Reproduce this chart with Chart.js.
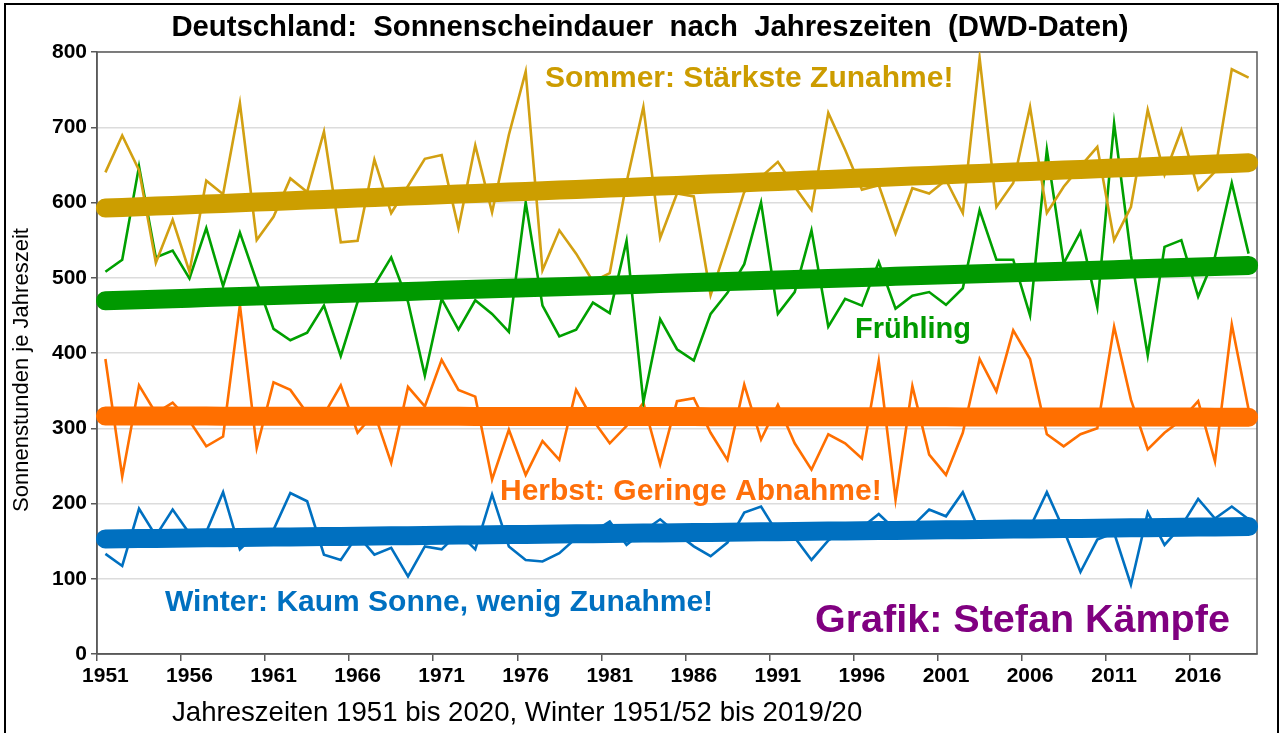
<!DOCTYPE html>
<html>
<head>
<meta charset="utf-8">
<script src="https://cdn.jsdelivr.net/npm/chart.js@4.4.1/dist/chart.umd.min.js"></script>
<style>
  html, body { margin: 0; padding: 0; background: #fff; }
  #wrap { position: relative; width: 1283px; height: 733px; }
</style>
</head>
<body>
<div id="wrap"><canvas id="chart" width="1283" height="733"></canvas></div>
<script>
const years = [
  1951, 1952, 1953, 1954, 1955, 1956, 1957, 1958, 1959, 1960,
  1961, 1962, 1963, 1964, 1965, 1966, 1967, 1968, 1969, 1970,
  1971, 1972, 1973, 1974, 1975, 1976, 1977, 1978, 1979, 1980,
  1981, 1982, 1983, 1984, 1985, 1986, 1987, 1988, 1989, 1990,
  1991, 1992, 1993, 1994, 1995, 1996, 1997, 1998, 1999, 2000,
  2001, 2002, 2003, 2004, 2005, 2006, 2007, 2008, 2009, 2010,
  2011, 2012, 2013, 2014, 2015, 2016, 2017, 2018, 2019
];
const tickLabels = [1951, 1956, 1961, 1966, 1971, 1976, 1981, 1986, 1991, 1996, 2001, 2006, 2011, 2016];

// Sonnenstunden je Jahreszeit
const sommer = [
  640, 689, 643, 520, 577, 508, 629, 611, 732, 550,
  581, 632, 614, 694, 547, 549, 657, 586, 622, 658,
  663, 566, 676, 587, 690, 774, 510, 563, 532, 495,
  506, 627, 727, 553, 612, 608, 477, 545, 614, 634,
  654, 621, 590, 719, 670, 617, 623, 559, 619, 612,
  630, 586, 792, 594, 626, 727, 586, 621, 648, 674,
  550, 594, 723, 637, 696, 617, 641, 777, 766
];
const fruehling = [
  508, 524, 648, 527, 536, 499, 566, 489, 560, 495,
  432, 417, 427, 463, 396, 468, 490, 527, 468, 370,
  472, 431, 470, 452, 428, 600, 463, 422, 431, 467,
  453, 549, 335, 445, 405, 390, 452, 480, 518, 600,
  452, 481, 563, 435, 472, 463, 521, 459, 476, 481,
  464, 486, 590, 524, 524, 450, 670, 519, 561, 461,
  705, 530, 397, 541, 550, 475, 528, 626, 532
];
const herbst = [
  392, 236, 357, 320, 334, 310, 276, 289, 464, 274,
  361, 351, 320, 318, 357, 294, 320, 254, 355, 329,
  391, 351, 342, 232, 298, 238, 283, 258, 351, 311,
  280, 303, 334, 252, 336, 340, 294, 258, 358, 285,
  331, 280, 245, 292, 280, 260, 389, 205, 356, 265,
  238, 294, 392, 349, 430, 392, 292, 276, 292, 300,
  435, 338, 272, 294, 311, 336, 256, 438, 325
];
const winter = [
  133, 117, 193, 157, 192, 160, 162, 215, 139, 160,
  165, 214, 203, 132, 125, 158, 132, 141, 103, 143,
  139, 161, 139, 212, 143, 125, 123, 134, 154, 162,
  176, 145, 163, 179, 160, 143, 130, 148, 188, 196,
  160, 155, 125, 151, 165, 168, 186, 165, 170, 192,
  183, 215, 163, 165, 165, 168, 215, 165, 109, 152,
  161, 92, 188, 145, 170, 206, 180, 196, 179
];

// lineare Trendlinie (wie in Excel)
function trend(values) {
  const n = values.length;
  let sx = 0, sy = 0, sxy = 0, sxx = 0;
  values.forEach((v, i) => { sx += i; sy += v; sxy += i * v; sxx += i * i; });
  const b = (n * sxy - sx * sy) / (n * sxx - sx * sx);
  const a = (sy - b * sx) / n;
  return values.map((_, i) => a + b * i);
}

const GOLD = '#D2A012';
const GREEN = '#00A000';
const ORANGE = '#FF6F00';
const BLUE = '#0070C0';

const seriesLine = (label, data, color) => ({
  label, data, borderColor: color, borderWidth: 2.6, pointRadius: 0,
  fill: false, tension: 0, order: 1, borderJoinStyle: 'miter'
});
const trendLine = (label, data, color) => ({
  label, data: trend(data), borderColor: color, borderWidth: 19, pointRadius: 0,
  fill: false, tension: 0, order: 0, borderCapStyle: 'round', borderJoinStyle: 'round'
});

const FONT = 'Liberation Sans, Arial, sans-serif';

const framePlugin = {
  id: 'frame',
  beforeDraw(chart) {
    const ctx = chart.ctx;
    ctx.save();
    ctx.fillStyle = '#fff';
    ctx.fillRect(0, 0, chart.width, chart.height);
    ctx.strokeStyle = '#000';
    ctx.lineWidth = 2;
    ctx.strokeRect(5, 4, 1273, 760);
    ctx.restore();
  },
  beforeDatasetsDraw(chart) {
    const { ctx, chartArea: a } = chart;
    ctx.save();
    ctx.strokeStyle = '#595959';
    ctx.lineWidth = 1.5;
    ctx.strokeRect(a.left, a.top, a.right - a.left, a.bottom - a.top);
    ctx.restore();
  }
};

const texts = [
  { text: 'Deutschland:  Sonnenscheindauer  nach  Jahreszeiten  (DWD-Daten)', x: 650, y: 28, size: 29.3, bold: true, color: '#000', align: 'center' },
  { text: 'Sommer: Stärkste Zunahme!', x: 545, y: 79, size: 30, bold: true, color: '#CC9C00' },
  { text: 'Frühling', x: 855, y: 330, size: 29, bold: true, color: '#009A00' },
  { text: 'Herbst: Geringe Abnahme!', x: 500, y: 492, size: 30, bold: true, color: '#FF6F0A' },
  { text: 'Winter: Kaum Sonne, wenig Zunahme!', x: 165, y: 603, size: 30, bold: true, color: '#0070C0' },
  { text: 'Grafik: Stefan Kämpfe', x: 815, y: 621, size: 39.5, bold: true, color: '#800080' },
  { text: 'Jahreszeiten 1951 bis 2020, Winter 1951/52 bis 2019/20', x: 172, y: 713, size: 27.6, bold: false, color: '#000' }
];

const textPlugin = {
  id: 'texts',
  afterDraw(chart) {
    const ctx = chart.ctx;
    ctx.save();
    ctx.textBaseline = 'middle';
    texts.forEach(t => {
      ctx.font = (t.bold ? 'bold ' : '') + t.size + 'px ' + FONT;
      ctx.fillStyle = t.color;
      ctx.textAlign = t.align || 'left';
      ctx.fillText(t.text, t.x, t.y);
    });
    // Achsentitel y
    ctx.translate(22, 370);
    ctx.rotate(-Math.PI / 2);
    ctx.font = '22px ' + FONT;
    ctx.fillStyle = '#000';
    ctx.textAlign = 'center';
    ctx.fillText('Sonnenstunden je Jahreszeit', 0, 0);
    ctx.restore();
  }
};

new Chart(document.getElementById('chart'), {
  type: 'line',
  data: {
    labels: years,
    datasets: [
      trendLine('Trend Sommer', sommer, '#CC9E00'),
      trendLine('Trend Frühling', fruehling, '#009900'),
      trendLine('Trend Herbst', herbst, '#FF6F00'),
      trendLine('Trend Winter', winter, '#0070C0'),
      seriesLine('Sommer', sommer, GOLD),
      seriesLine('Frühling', fruehling, GREEN),
      seriesLine('Herbst', herbst, ORANGE),
      seriesLine('Winter', winter, BLUE)
    ]
  },
  options: {
    responsive: false,
    animation: false,
    layout: { padding: { left: 0, right: 26, top: 52, bottom: 0 } },
    plugins: {
      legend: { display: false },
      tooltip: { enabled: false },
      title: { display: false }
    },
    scales: {
      x: {
        type: 'category',
        offset: true,
        grid: {
          offset: true,
          drawOnChartArea: false,
          tickLength: 7,
          lineWidth: 1.5,
          tickColor: ctx => (ctx.index % 5 === 0 ? '#595959' : 'rgba(0,0,0,0)')
        },
        border: { color: '#595959', width: 1.5 },
        ticks: {
          autoSkip: false,
          maxRotation: 0,
          minRotation: 0,
          padding: 3,
          color: '#000',
          font: { family: FONT, size: 21, weight: 'bold' },
          callback: (v, i) => (tickLabels.includes(years[i]) ? String(years[i]) : '')
        },
        afterFit: s => { s.height = 79; }
      },
      y: {
        min: 0,
        max: 800,
        ticks: {
          stepSize: 100,
          padding: 4,
          color: '#000',
          font: { family: FONT, size: 21, weight: 'bold' }
        },
        grid: { color: '#dcdcdc', lineWidth: 1.5, tickLength: 6, tickColor: '#595959' },
        border: { color: '#595959', width: 1.5 },
        afterFit: s => { s.width = 97; }
      }
    }
  },
  plugins: [framePlugin, textPlugin]
});
</script>
</body>
</html>
